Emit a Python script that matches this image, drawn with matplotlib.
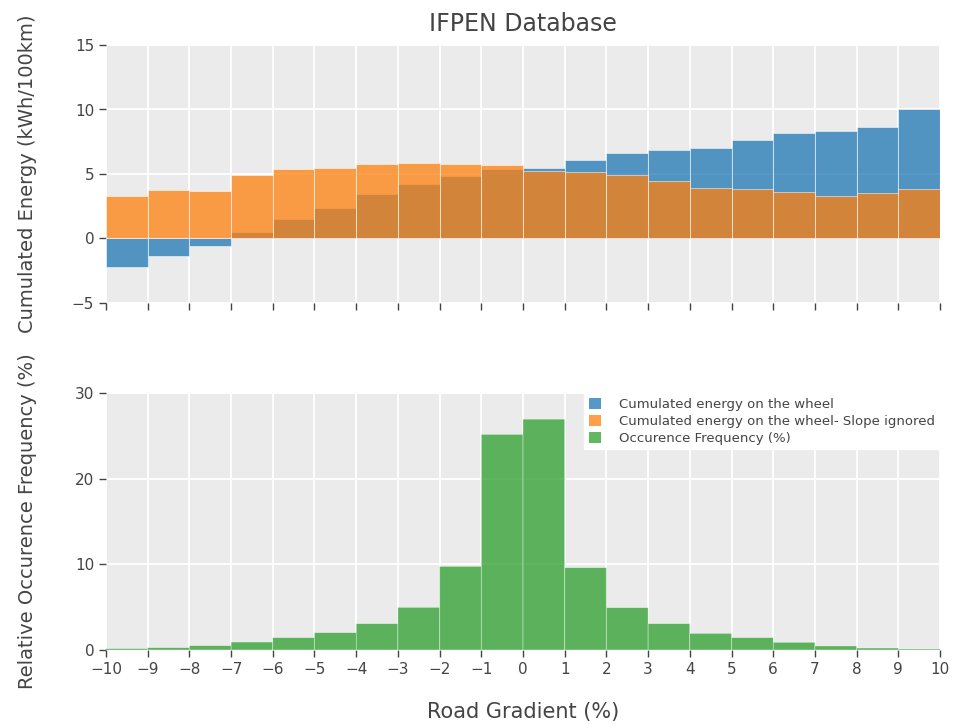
import matplotlib
matplotlib.use("Agg")
import matplotlib.pyplot as plt
import numpy as np
from matplotlib.patches import Patch

# Data
bin_left = list(range(-10, 10))
energy_slope = [-2.2, -1.35, -0.57, 0.54, 1.52, 2.35, 3.44, 4.21, 4.83, 5.4,
                5.5, 6.07, 6.6, 6.87, 7.05, 7.67, 8.14, 8.35, 8.66, 10.05]
energy_noslope = [3.31, 3.77, 3.72, 4.91, 5.35, 5.48, 5.81, 5.89, 5.76, 5.7,
                  5.25, 5.16, 4.96, 4.47, 3.9, 3.8, 3.59, 3.31, 3.49, 3.85]
occurrence = [0.16, 0.27, 0.5, 0.93, 1.44, 2.02, 3.07, 4.98, 9.76, 25.17,
              26.95, 9.61, 4.94, 3.07, 1.94, 1.44, 0.9, 0.47, 0.23, 0.12]
xticks = list(range(-10, 11))
legend_labels = ["Cumulated energy on the wheel",
                 "Cumulated energy on the wheel- Slope ignored",
                 "Occurence Frequency (%)"]

blue = "#1f77b4"
orange = "#ff7f0e"
green = "#2ca02c"
bg = "#ebebeb"
txt = "#444444"
edge = (1, 1, 1, 0.55)

plt.rcParams['font.family'] = ['DejaVu Sans']

fig = plt.figure(figsize=(9.56, 7.24), dpi=100)
ax1 = fig.add_axes([106/956, 1-303/724, (940-106)/956, (303-45)/724])
ax2 = fig.add_axes([106/956, 1-650/724, (940-106)/956, (650-393)/724])

for ax in (ax1, ax2):
    ax.set_facecolor(bg)
    for s in ax.spines.values():
        s.set_visible(False)
    ax.set_axisbelow(True)
    ax.grid(True, color="white", linewidth=1.3)
    ax.set_xlim(-10, 10)
    ax.set_xticks(xticks)
    ax.tick_params(axis='both', direction='out', length=5, width=1,
                   color=txt, labelcolor=txt, labelsize=11)

ax1.bar(bin_left, energy_slope, width=1, align='edge', color=blue, alpha=0.75,
        edgecolor=edge, linewidth=0.5)
ax1.bar(bin_left, energy_noslope, width=1, align='edge', color=orange, alpha=0.75,
        edgecolor=edge, linewidth=0.5)
ax1.set_ylim(-5, 15)
ax1.set_yticks([-5, 0, 5, 10, 15])
ax1.set_yticklabels(["\u22125", "0", "5", "10", "15"])
ax1.tick_params(axis='x', labelbottom=False)
ax1.set_ylabel("Cumulated Energy (kWh/100km)", fontsize=14, color=txt, labelpad=25)
ax1.set_title("IFPEN Database", fontsize=17, color=txt, pad=10)

bars = ax2.bar(bin_left, occurrence, width=1, align='edge', color=green, alpha=0.75,
               edgecolor=edge, linewidth=0.3)
for b in bars:
    b.set_snap(False)
    b.set_clip_on(False)
ax2.set_ylim(0, 30)
ax2.set_yticks([0, 10, 20, 30])
ax2.set_xticklabels([str(v).replace('-', '\u2212') for v in xticks])
ax2.set_ylabel("Relative Occurence Frequency (%)", fontsize=14, color=txt, labelpad=27)
ax2.set_xlabel("Road Gradient (%)", fontsize=15, color=txt, labelpad=18)

handles = [Patch(facecolor=blue, alpha=0.75), Patch(facecolor=orange, alpha=0.75),
           Patch(facecolor=green, alpha=0.75)]
leg = ax2.legend(handles, legend_labels, loc='upper right', bbox_to_anchor=(1.0, 1.0),
                 fontsize=9.5, frameon=True, fancybox=False, framealpha=1,
                 edgecolor='white', handlelength=0.9, handleheight=0.9,
                 borderaxespad=0, borderpad=0.35, labelspacing=0.3, handletextpad=1.4)
for t in leg.get_texts():
    t.set_color(txt)

fig.savefig("out.png", dpi=100, facecolor='white')
